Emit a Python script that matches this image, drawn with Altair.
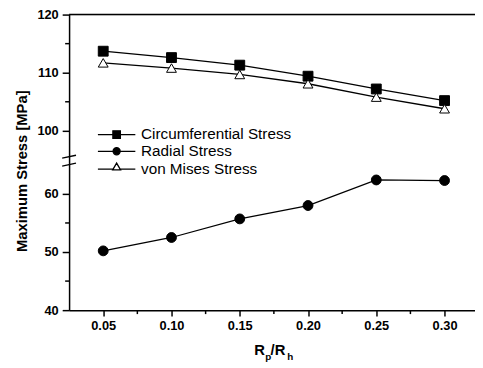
import altair as alt
import pandas as pd

# ---------------- data ----------------
ratio = [0.05, 0.10, 0.15, 0.20, 0.25, 0.30]
circumferential = [113.7, 112.6, 111.3, 109.4, 107.2, 105.2]
radial = [50.2, 52.5, 55.7, 58.0, 62.4, 62.3]
von_mises = [111.7, 110.8, 109.7, 108.1, 105.8, 103.8]
series_names = ["Circumferential Stress", "Radial Stress", "von Mises Stress"]

y_major = [40, 50, 60, 100, 110, 120]
y_minor = [45, 55, 105, 115]
x_major = [0.05, 0.10, 0.15, 0.20, 0.25, 0.30]
x_minor = [0.075, 0.125, 0.175, 0.225, 0.275]

# broken axis: 40-65 lower segment, 95-120 upper segment
SHIFT = 29.15
def disp(v):
    return v if v <= 65 else v - SHIFT

rows = []
for name, vals in zip(series_names, [circumferential, radial, von_mises]):
    for r, v in zip(ratio, vals):
        rows.append({"ratio": r, "stress": v, "series": name})
df = pd.DataFrame(rows)

W, H = 412, 300
FONT = "Liberation Sans"
xscale = alt.Scale(domain=[0.025, 0.3223], nice=False, zero=False)
yscale = alt.Scale(domain=[40, 90.85], nice=False, zero=False)

x_axis = alt.Axis(
    values=x_major, format=".2f", title=None, tickSize=6, labelPadding=4,
    labelFontSize=13, labelFontWeight="bold", labelFont=FONT, labelColor="black",
    domainColor="black", domainWidth=1.5, tickColor="black", tickWidth=1.5,
    grid=False, labelFlush=False)
y_axis = alt.Axis(
    values=[disp(v) for v in y_major],
    labelExpr=f"datum.value > 66 ? format(round(datum.value + {SHIFT}), 'd') : format(datum.value, 'd')",
    title="Maximum Stress [MPa]", titleX=-43, titleY=158.5, titleAngle=270,
    titleAlign="center", titleBaseline="alphabetic", titleFontSize=15,
    titleFontWeight="bold", titleFont=FONT, titleColor="black",
    tickSize=7, labelPadding=4, labelFontSize=13, labelFontWeight="bold",
    labelFont=FONT, labelColor="black", domainColor="black", domainWidth=1.5,
    tickColor="black", tickWidth=1.5, grid=False, labelFlush=False)

def X(field):
    return alt.X(field, scale=xscale, axis=x_axis)

def Y(field):
    return alt.Y(field, scale=yscale, axis=y_axis)

base = alt.Chart(df).transform_calculate(
    yd=f"datum.stress > 80 ? datum.stress - {SHIFT} : datum.stress"
)

lines = base.mark_line(color="black", strokeWidth=1.3).encode(
    x=X("ratio:Q"), y=Y("yd:Q"), detail="series:N")

points = base.mark_point(filled=True, size=100, stroke="black", strokeWidth=1, opacity=1).encode(
    x=X("ratio:Q"), y=Y("yd:Q"),
    shape=alt.Shape("series:N", scale=alt.Scale(domain=series_names,
                    range=["square", "circle", "triangle-up"]), legend=None),
    fill=alt.Fill("series:N", scale=alt.Scale(domain=series_names,
                  range=["black", "black", "white"]), legend=None),
)

# legend symbols: line with marker (size 100 -> unit = 5px)
legend_paths = [
    "M-3.8,0H3.8M-0.76,-0.76H0.76V0.76H-0.76Z",
    "M-3.8,0H3.8M0.72,0A0.72,0.72,0,1,1,-0.72,0A0.72,0.72,0,1,1,0.72,0Z",
    "M-3.8,0H-0.8M0.8,0H3.8M-0.8,0.16L0,-1.2L0.8,0.16Z",
]
leg = dict(orient="none", legendX=40.5, legendY=114, title=None, padding=0,
           rowPadding=0, labelOffset=17, labelFontSize=15.5, labelFont=FONT,
           labelColor="black", symbolSize=100, symbolStrokeWidth=1.3,
           symbolStrokeColor="black", symbolOpacity=1)
legend_layer = base.mark_point(filled=True, opacity=0).encode(
    x=X("ratio:Q"), y=Y("yd:Q"),
    shape=alt.Shape("series:N", scale=alt.Scale(domain=series_names, range=legend_paths),
                    legend=alt.Legend(**leg)),
    fill=alt.Fill("series:N", scale=alt.Scale(domain=series_names,
                  range=["black", "black", "white"]), legend=alt.Legend(**leg)),
    stroke=alt.Stroke("series:N", scale=alt.Scale(domain=series_names,
                      range=["black", "black", "black"]), legend=alt.Legend(**leg)),
)

# minor ticks
ymin_df = pd.DataFrame({"v": [disp(v) for v in y_minor]})
xmin_df = pd.DataFrame({"u": x_minor})
y_minor_ticks = alt.Chart(ymin_df).mark_rule(color="black", strokeWidth=1.5).encode(
    y=Y("v:Q"), x=alt.value(-4), x2=alt.value(0))
x_minor_ticks = alt.Chart(xmin_df).mark_rule(color="black", strokeWidth=1.5).encode(
    x=X("u:Q"), y=alt.value(H), y2=alt.value(H + 4))

one = pd.DataFrame({"a": [0]})
top_border = alt.Chart(one).mark_rule(color="black", strokeWidth=1.5).encode(
    x=alt.value(0), x2=alt.value(W), y=alt.value(0))

# axis break marks
break_df = pd.DataFrame({"lo": [66.15, 64.8], "hi": [66.65, 65.3]})
breaks = alt.Chart(break_df).mark_rule(color="black", strokeWidth=1.3).encode(
    x=alt.value(-7), x2=alt.value(7), y=Y("lo:Q"), y2="hi:Q")

# x title with subscripts
def txt(s, x, y, size):
    return alt.Chart(one).mark_text(text=s, align="left", baseline="alphabetic",
                                    font=FONT, fontSize=size, fontWeight="bold",
                                    color="black").encode(x=alt.value(x), y=alt.value(y))

xtitle = [txt("R", 188, 346, 15), txt("p", 199, 351, 10),
          txt("/R", 204.5, 346, 15), txt("h", 221.5, 351, 10)]

chart = alt.layer(lines, points, legend_layer, y_minor_ticks, x_minor_ticks,
                  top_border, breaks, *xtitle).resolve_scale(
    shape="independent", fill="independent", stroke="independent"
).properties(
    width=W, height=H,
    autosize=alt.AutoSizeParams(type="none"),
    padding={"left": 62, "top": 4, "right": 0, "bottom": 54},
).configure_view(stroke=None).configure(font=FONT)

chart.save("out.html", embed_options={"renderer": "svg", "actions": False})
